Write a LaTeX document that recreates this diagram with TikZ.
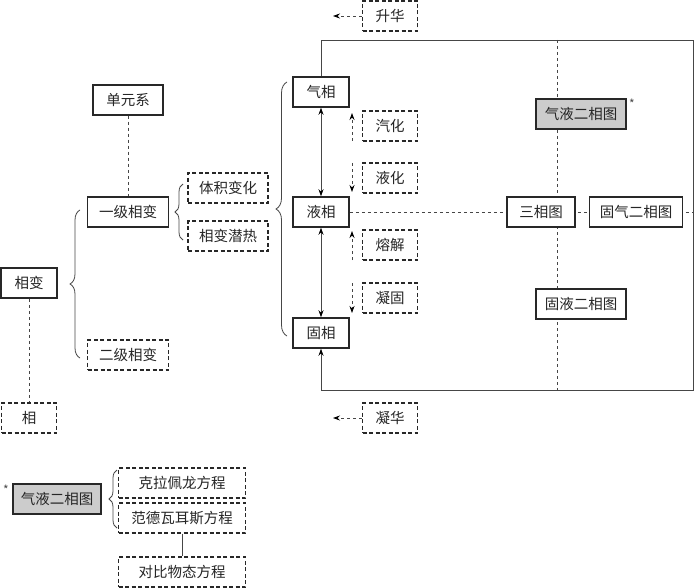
\documentclass[tikz,border=0pt]{standalone}
\usepackage{fontspec}
\newfontfamily\cjk{Noto Sans CJK SC}
\usetikzlibrary{decorations.pathreplacing,arrows.meta,backgrounds}
\definecolor{boxline}{RGB}{40,40,40}
\definecolor{conline}{RGB}{70,70,70}
\definecolor{grayfill}{RGB}{204,204,204}
\tikzset{
  lbl/.style={font=\cjk\fontsize{14.5}{16}\selectfont, text=black!85},
  sbox/.style={lbl, draw=boxline, line width=1.5pt, fill=white, minimum height=30pt, inner sep=2pt},
  dbox/.style={lbl, draw=boxline, line width=1.3pt, dash pattern=on 4pt off 2.5pt, fill=white, minimum height=30pt, inner sep=2pt},
  gbox/.style={sbox, fill=grayfill},
  conn/.style={draw=conline, line width=0.8pt},
  dconn/.style={conn, dash pattern=on 3pt off 3pt},
  dblarrow/.style={conn, {Stealth[length=7pt,width=5pt,color=black]}-{Stealth[length=7pt,width=5pt,color=black]}},
  sarrow/.style={conn, -{Stealth[length=7pt,width=5pt,color=black]}},
  darrow/.style={dconn, -{Stealth[length=7pt,width=5pt,color=black]}},
  bracestyle/.style={conn, decorate},
  star/.style={font=\cjk\fontsize{12}{12}\selectfont, text=black!70, inner sep=0pt}
}
\begin{document}
\begin{tikzpicture}[x=1pt,y=-1pt]
\useasboundingbox (0,0) rectangle (695,588);
% nodes
\node[sbox, minimum width=56pt] (xb) at (29,283) {相变};
\node[dbox, minimum width=55pt] (xiang) at (29,418) {相};
\node[sbox, minimum width=70pt] (dy) at (128,100) {单元系};
\node[sbox, minimum width=81pt] (yj) at (128,212) {一级相变};
\node[dbox, minimum width=81pt] (ej) at (128,355) {二级相变};
\node[dbox, minimum width=80pt] (tj) at (228,188) {体积变化};
\node[dbox, minimum width=80pt] (qr) at (228,236) {相变潜热};
\node[sbox, minimum width=56pt] (gas) at (321,92) {气相};
\node[sbox, minimum width=56pt] (liq) at (321,212) {液相};
\node[sbox, minimum width=56pt] (sol) at (321,333) {固相};
\node[dbox, minimum width=55pt] (sh) at (390,16) {升华};
\node[dbox, minimum width=55pt] (qh) at (390,126) {汽化};
\node[dbox, minimum width=55pt] (yh) at (390,178) {液化};
\node[dbox, minimum width=55pt] (rj) at (390,245) {熔解};
\node[dbox, minimum width=55pt] (ng) at (390,298) {凝固};
\node[dbox, minimum width=55pt] (nh) at (390,418) {凝华};
\node[gbox, minimum width=90pt] (qy) at (581,114) {气液二相图};
\node[star] (st1) at (632,104) {*};
\node[sbox, minimum width=68pt] (sx) at (541,212) {三相图};
\node[sbox, minimum width=93pt] (gq) at (636,212) {固气二相图};
\node[sbox, minimum width=90pt] (gy) at (581,304) {固液二相图};
\node[star] (st2) at (6,490) {*};
\node[gbox, minimum width=88pt] (qy2) at (57,499) {气液二相图};
\node[dbox, minimum width=127pt] (kl) at (182,483) {克拉佩龙方程};
\node[dbox, minimum width=127pt] (fd) at (182,518) {范德瓦耳斯方程};
\node[dbox, minimum width=127pt] (db) at (182,572) {对比物态方程};
% coordinates
\coordinate (boxTL) at (321,40);
\coordinate (boxTR) at (693,40);
\coordinate (boxBR) at (693,390);
\coordinate (boxBL) at (321,390);
\coordinate (vtop) at (557,40);
\coordinate (vbot) at (557,390);
\coordinate (hend) at (693,212);
\coordinate (shEnd) at (333,16);
\coordinate (nhEnd) at (333,418);
\coordinate (a1s) at (352,141); \coordinate (a1e) at (352,113);
\coordinate (a2s) at (352,163); \coordinate (a2e) at (352,192);
\coordinate (a3s) at (352,260); \coordinate (a3e) at (352,231);
\coordinate (a4s) at (352,283); \coordinate (a4e) at (352,313);
\begin{scope}[on background layer]
\draw[dconn] (liq.east) -- (hend);
\draw[dconn] (vtop) -- (vbot);
\end{scope}
% frame
\draw[sarrow] (gas.north) -- (boxTL) -- (boxTR) -- (boxBR) -- (boxBL) -- (sol.south);
% connectors
\draw[dconn] (dy.south) -- (yj.north);
\draw[dconn] (xb.south) -- (xiang.north);
\draw[dblarrow] (gas.south) -- (liq.north);
\draw[dblarrow] (liq.south) -- (sol.north);
\draw[darrow] (sh.west) -- (shEnd);
\draw[darrow] (nh.west) -- (nhEnd);
\draw[darrow] (a1s) -- (a1e);
\draw[darrow] (a2s) -- (a2e);
\draw[darrow] (a3s) -- (a3e);
\draw[darrow] (a4s) -- (a4e);
\draw[conn] (fd.south) -- (db.north);
% braces
\draw[bracestyle, decoration={brace, amplitude=10pt}] (80,358) -- (80,210);
\draw[bracestyle, decoration={brace, amplitude=8pt}] (183,240) -- (183,184);
\draw[bracestyle, decoration={brace, amplitude=11pt}] (287,336) -- (287,82);
\draw[bracestyle, decoration={brace, amplitude=8pt}] (117,528) -- (117,470);
\end{tikzpicture}
\end{document}
